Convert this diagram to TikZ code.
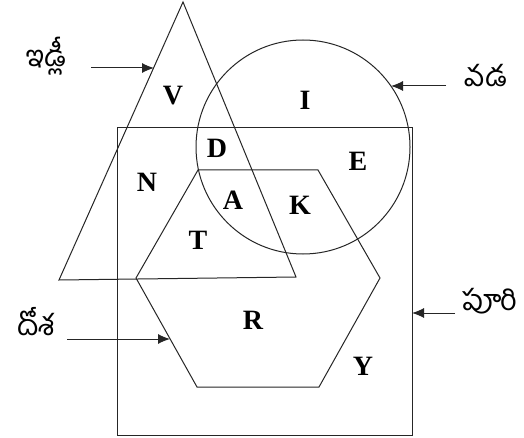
\documentclass[tikz,border=0pt]{standalone}
\usepackage{fontspec}
\setmainfont{Liberation Serif}
\newfontfamily\telugu[Script=Telugu]{Hind Guntur}
\usetikzlibrary{arrows.meta}
\begin{document}
\begin{tikzpicture}[x=1pt,y=-1pt,
  shapeline/.style={line width=1pt, draw=black!85},
  letter/.style={font=\fontsize{28}{28}\selectfont\bfseries, inner sep=0pt},
  tlabel/.style={font=\telugu\fontsize{29}{29}\selectfont, inner sep=0pt},
  pointer/.style={line width=1pt, draw=black!85, -{Latex[length=12pt,width=10pt]}}]
\useasboundingbox (0,0) rectangle (524,438);
\fill[white] (0,0) rectangle (524,438);
% shapes
\draw[shapeline] (183,2) -- (59,280) -- (296,277) -- cycle;
\draw[shapeline] (303,147) circle[radius=107];
\draw[shapeline] (117,128) rectangle (412,435);
\draw[shapeline] (198,170) -- (318,170) -- (380,278) -- (319,387) -- (197,387) -- (136,278) -- cycle;
% region letters
\node[letter] (V) at (173,96) {V};
\node[letter] (I) at (305,100) {I};
\node[letter] (D) at (217,148) {D};
\node[letter] (E) at (358,161) {E};
\node[letter] (N) at (147,182) {N};
\node[letter] (A) at (233,200) {A};
\node[letter] (K) at (300,205) {K};
\node[letter] (T) at (198,240) {T};
\node[letter] (R) at (253,320) {R};
\node[letter] (Y) at (363,366) {Y};
% labels
\node[tlabel] (idli) at (46,56) {ఇడ్లీ};
\node[tlabel] (vada) at (486,76) {వడ};
\node[tlabel] (dosa) at (36,322) {దోశ};
\node[tlabel] (puri) at (490,301) {పూరి};
% arrow ends
\coordinate (idliS) at (91,68);
\coordinate (idliT) at (154,68);
\coordinate (vadaS) at (446,86);
\coordinate (vadaT) at (391,86);
\coordinate (dosaS) at (67,339);
\coordinate (dosaT) at (170,339);
\coordinate (puriS) at (455,313);
\coordinate (puriT) at (412,313);
\draw[pointer] (idliS) -- (idliT);
\draw[pointer] (vadaS) -- (vadaT);
\draw[pointer] (dosaS) -- (dosaT);
\draw[pointer] (puriS) -- (puriT);
\end{tikzpicture}
\end{document}
